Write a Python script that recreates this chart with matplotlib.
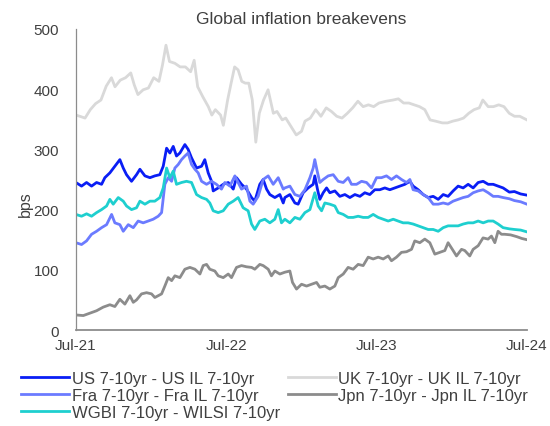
import matplotlib
matplotlib.use("Agg")
import matplotlib.pyplot as plt

plt.rcParams["font.family"] = ["Liberation Sans", "DejaVu Sans"]

TEXT = "#404040"
AXIS = "#8c8c8c"

# x positions are months since Jul-21, values in bps
x_ticks = [0, 12, 24, 36]
x_labels = ["Jul-21", "Jul-22", "Jul-23", "Jul-24"]
y_ticks = [0, 100, 200, 300, 400, 500]

us_m = [0, 0.45, 0.85, 1.25, 1.65, 2.05, 2.31, 2.71, 3.11, 3.51,
        3.78, 4.04, 4.44, 4.84, 5.11, 5.51, 5.91, 6.3, 6.7, 6.97,
        7.24, 7.5, 7.77, 8.03, 8.3, 8.7, 8.96, 9.23, 9.63, 10.03,
        10.29, 10.56, 10.83, 10.96, 11.36, 11.76, 12.16, 12.56, 12.82, 13.22,
        13.62, 14.02, 14.28, 14.68, 14.95, 15.22, 15.48, 15.88, 16.28, 16.55,
        16.68, 17.08, 17.48, 17.74, 18.14, 18.54, 18.94, 19.07, 19.29, 19.47,
        19.74, 20.01, 20.27, 20.67, 21.07, 21.47, 21.87, 22.27, 22.67, 23.06,
        23.46, 23.86, 24.26, 24.66, 25.06, 25.46, 25.86, 26.26, 26.66, 26.92,
        27.32, 27.72, 28.12, 28.52, 28.92, 29.32, 29.71, 30.11, 30.51, 30.91,
        31.31, 31.71, 32.11, 32.51, 32.91, 33.31, 33.7, 34.1, 34.6, 35.0,
        35.5, 36.0]
us_v = [245, 239, 245, 239, 245, 242, 253, 261, 272, 283,
        269, 258, 247, 258, 267, 256, 253, 256, 258, 272,
        302, 294, 305, 289, 294, 308, 300, 286, 269, 272,
        283, 261, 247, 231, 236, 242, 245, 234, 253, 242,
        234, 220, 214, 242, 250, 234, 225, 220, 225, 211,
        220, 225, 211, 209, 228, 236, 242, 256, 233, 217,
        228, 236, 228, 231, 222, 225, 220, 225, 222, 228,
        225, 233, 233, 236, 233, 236, 239, 242, 247, 239,
        233, 225, 220, 222, 217, 225, 222, 231, 239, 236,
        242, 236, 245, 247, 242, 242, 239, 236, 229, 230,
        226, 224]

uk_m = [0, 0.31, 0.73, 1.15, 1.57, 2.0, 2.42, 2.84, 3.12, 3.54,
        3.96, 4.38, 4.66, 4.95, 5.37, 5.79, 6.21, 6.63, 6.91, 7.19,
        7.47, 7.9, 8.32, 8.74, 9.16, 9.44, 9.72, 10.14, 10.57, 10.85,
        11.13, 11.55, 11.77, 12.11, 12.39, 12.67, 12.95, 13.24, 13.52, 13.8,
        14.08, 14.36, 14.64, 14.98, 15.34, 15.76, 16.05, 16.47, 16.75, 17.17,
        17.59, 18.01, 18.29, 18.71, 19.14, 19.56, 19.98, 20.4, 20.82, 21.24,
        21.67, 22.09, 22.51, 22.93, 23.35, 23.77, 24.19, 24.76, 25.32, 25.74,
        26.16, 26.58, 27.0, 27.43, 27.85, 28.27, 28.69, 29.25, 29.67, 30.1,
        30.52, 30.94, 31.36, 31.78, 32.2, 32.48, 32.91, 33.33, 33.75, 34.17,
        34.59, 35.01, 35.43, 36.0]
uk_v = [357, 355, 352, 366, 376, 382, 405, 419, 404, 415,
        419, 427, 407, 391, 399, 402, 419, 413, 440, 473,
        446, 443, 437, 437, 429, 448, 404, 387, 371, 357,
        366, 357, 340, 382, 410, 437, 432, 413, 410, 410,
        382, 312, 360, 382, 399, 360, 363, 349, 352, 338,
        324, 330, 347, 352, 366, 355, 369, 363, 355, 352,
        360, 369, 380, 371, 374, 371, 377, 380, 382, 384,
        377, 377, 374, 371, 366, 349, 347, 344, 344, 347,
        349, 352, 360, 366, 369, 382, 371, 371, 374, 371,
        360, 355, 355, 349]

fra_m = [0, 0.45, 0.85, 1.25, 1.65, 2.05, 2.45, 2.85, 3.11, 3.51,
         3.78, 4.18, 4.58, 4.97, 5.37, 5.77, 6.17, 6.57, 6.84, 7.1,
         7.37, 7.64, 7.9, 8.17, 8.43, 8.7, 8.96, 9.23, 9.5, 9.76,
         10.03, 10.43, 10.83, 11.22, 11.62, 11.89, 12.29, 12.69, 12.95, 13.22,
         13.62, 13.89, 14.15, 14.55, 14.95, 15.35, 15.75, 16.15, 16.55,
         16.68, 17.08, 17.48, 17.88, 18.28, 18.68, 18.94, 19.07, 19.26, 19.47,
         19.74, 20.14, 20.54, 20.94, 21.34, 21.73, 22.0, 22.4, 22.8, 23.2,
         23.6, 24.0, 24.39, 24.79, 25.19, 25.59, 25.99, 26.39, 26.66, 26.92,
         27.32, 27.72, 28.12, 28.52, 28.92, 29.32, 29.71, 30.11, 30.51, 30.91,
         31.31, 31.71, 32.11, 32.51, 32.91, 33.31, 33.7, 34.1,
         34.6, 35.0, 35.5, 36.0]
fra_v = [145, 142, 148, 159, 164, 170, 175, 192, 178, 175,
         164, 175, 170, 181, 178, 181, 184, 189, 195, 242,
         253, 247, 269, 275, 283, 289, 294, 275, 267, 261,
         247, 242, 247, 242, 234, 245, 239, 256, 245, 234,
         239, 214, 209, 222, 250, 256, 242, 253, 234,
         236, 239, 225, 222, 233, 253, 269, 283, 264, 245,
         250, 256, 258, 247, 245, 253, 242, 242, 247, 245,
         236, 253, 253, 256, 250, 256, 250, 245, 250, 233,
         231, 225, 220, 209, 209, 211, 209, 214, 217, 220,
         222, 228, 231, 233, 228, 222, 222, 220,
         218, 215, 213, 209]

jpn_m = [0, 0.59, 1.12, 1.65, 2.18, 2.71, 3.11, 3.51, 3.91, 4.31,
         4.58, 4.84, 5.24, 5.64, 6.04, 6.3, 6.57, 6.84, 7.1, 7.37,
         7.64, 7.9, 8.3, 8.7, 9.1, 9.5, 9.9, 10.16, 10.43, 10.69,
         11.09, 11.36, 11.76, 12.16, 12.42, 12.82, 13.22, 13.62, 14.02, 14.28,
         14.68, 14.95, 15.35, 15.61, 15.88, 16.28, 16.68, 17.08, 17.29, 17.61,
         18.01, 18.41, 18.81, 19.21, 19.47, 19.87, 20.27, 20.67, 20.94, 21.34,
         21.73, 22.13, 22.53, 22.93, 23.33, 23.73, 24.13, 24.53, 24.93, 25.19,
         25.59, 25.99, 26.39, 26.79, 27.05, 27.45, 27.85, 28.25, 28.65, 29.05,
         29.45, 29.71, 30.11, 30.38, 30.78, 31.04, 31.44, 31.71, 32.11, 32.5,
         32.9, 33.17, 33.44, 33.7, 33.97, 34.23, 34.7, 35.2, 35.6, 36.0]
jpn_v = [25, 24, 28, 32, 38, 42, 39, 51, 43, 57,
         46, 50, 60, 62, 60, 54, 57, 60, 73, 87,
         82, 90, 87, 101, 104, 101, 93, 107, 109, 101,
         98, 90, 87, 93, 87, 104, 107, 105, 104, 101,
         109, 107, 101, 90, 98, 93, 96, 98, 79, 68,
         76, 73, 76, 79, 71, 73, 68, 73, 87, 93,
         104, 101, 109, 107, 121, 118, 121, 118, 123, 115,
         121, 129, 130, 134, 148, 145, 151, 145, 126, 129,
         132, 145, 132, 123, 134, 132, 123, 134, 140, 153,
         151, 156, 145, 164, 159, 159, 158, 155, 152, 150]

wgbi_m = [0, 0.45, 0.85, 1.25, 1.65, 2.05, 2.45, 2.71, 2.98, 3.38,
          3.78, 4.04, 4.44, 4.84, 5.11, 5.51, 5.91, 6.3, 6.7, 6.97,
          7.24, 7.5, 7.77, 8.03, 8.43, 8.83, 9.23, 9.63, 10.03, 10.43,
          10.69, 10.96, 11.36, 11.76, 12.16, 12.56, 12.95, 13.35, 13.75, 14.02,
          14.28, 14.68, 15.08, 15.48, 15.88, 16.15, 16.41,
          16.68, 17.08, 17.48, 17.88, 18.28, 18.68, 19.07, 19.34, 19.61, 19.87,
          20.27, 20.67, 20.94, 21.34, 21.73, 22.13, 22.53, 22.93, 23.33, 23.73,
          24.13, 24.53, 24.93, 25.33, 25.72, 26.12, 26.52, 26.92, 27.32, 27.72,
          28.12, 28.52, 28.92, 29.32, 29.71, 30.11, 30.51, 30.91, 31.31, 31.71,
          32.11, 32.51, 32.91, 33.31, 33.7, 34.1, 34.6, 35.0, 35.5, 36.0]
wgbi_v = [192, 189, 193, 189, 195, 200, 206, 217, 209, 220,
          214, 206, 200, 203, 214, 209, 214, 214, 220, 236,
          269, 253, 264, 242, 245, 247, 245, 225, 220, 217,
          211, 198, 195, 198, 209, 214, 220, 203, 198, 176,
          167, 181, 184, 178, 184, 200, 178,
          184, 178, 187, 184, 195, 200, 228, 206, 198, 211,
          209, 206, 195, 192, 187, 187, 189, 187, 187, 192,
          187, 184, 181, 184, 181, 178, 178, 176, 173, 170,
          167, 167, 164, 170, 173, 173, 173, 176, 178, 178,
          181, 178, 181, 181, 176, 170, 168, 167, 166, 163]

series = [
    ("US 7-10yr - US IL 7-10yr", us_m, us_v, "#0a1ef5"),
    ("UK 7-10yr - UK IL 7-10yr", uk_m, uk_v, "#d9d9d9"),
    ("Fra 7-10yr - Fra IL 7-10yr", fra_m, fra_v, "#6b7bff"),
    ("Jpn 7-10yr - Jpn IL 7-10yr", jpn_m, jpn_v, "#8c8c8c"),
    ("WGBI 7-10yr - WILSI 7-10yr", wgbi_m, wgbi_v, "#1ecfcf"),
]
legend_order = [0, 2, 4, 1, 3]

fig = plt.figure(figsize=(5.5, 4.27), dpi=100)
ax = fig.add_axes([0.138, 0.2248, 0.82, 0.705])

lines = []
for label, xs, ys, color in series:
    (ln,) = ax.plot(xs, ys, color=color, linewidth=2.0, label=label)
    lines.append(ln)

ax.set_xlim(0, 36)
ax.set_ylim(0, 500)
ax.set_xticks(x_ticks)
ax.set_xticklabels(x_labels)
ax.set_yticks(y_ticks)
ax.tick_params(axis="both", length=0, labelsize=11, colors=TEXT)
ax.tick_params(axis="y", pad=12)
ax.tick_params(axis="x", pad=6)

for side in ("top", "right"):
    ax.spines[side].set_visible(False)
ax.spines["left"].set_color(AXIS)
ax.spines["left"].set_linewidth(0.9)
ax.spines["bottom"].set_color(AXIS)
ax.spines["bottom"].set_linewidth(1.3)

ax.set_title("Global inflation breakevens", fontsize=12.5, color=TEXT, pad=4)
ax.set_ylabel("bps", fontsize=11.5, color=TEXT)
ax.yaxis.set_label_coords(-0.095, 0.42)

fig.legend(
    [lines[i] for i in legend_order],
    [series[i][0] for i in legend_order],
    loc="upper left",
    bbox_to_anchor=(21 / 550, 1 - 372 / 427),
    ncol=2,
    frameon=False,
    fontsize=12,
    labelcolor=TEXT,
    handlelength=2.9,
    handletextpad=0.15,
    columnspacing=0.45,
    labelspacing=0.12,
    borderpad=0,
    borderaxespad=0,
)

fig.savefig("out.png", dpi=100)
